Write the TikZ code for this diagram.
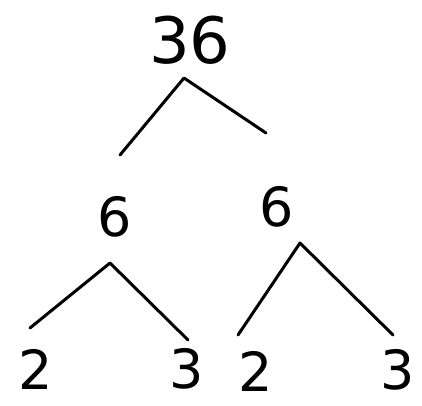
\documentclass[tikz,border=0pt]{standalone}
\usepackage{fontspec}
\setmainfont{DejaVu Sans}
\begin{document}
\begin{tikzpicture}[x=1pt,y=-1pt,
  num/.style={inner sep=0pt, font=\fontsize{54}{54}\selectfont},
  big/.style={inner sep=0pt, font=\fontsize{64}{64}\selectfont},
  branch/.style={line width=3pt, line cap=round, line join=round}]
\useasboundingbox (0,0) rectangle (422,405);
\node[big] (n36) at (190,40) {36};
\node[num] (n6a) at (115,217) {6};
\node[num] (n6b) at (277,207) {6};
\node[num] (n2a) at (36,369) {2};
\node[num] (n3a) at (187,369) {3};
\node[num] (n2b) at (256,371) {2};
\node[num] (n3b) at (398,370) {3};
% apexes and ends
\coordinate (a0) at (184,78);
\coordinate (l0) at (120,155);
\coordinate (r0) at (266,133);
\coordinate (a1) at (110,263);
\coordinate (l1) at (30,328);
\coordinate (r1) at (188,340);
\coordinate (a2) at (300,243);
\coordinate (l2) at (238,335);
\coordinate (r2) at (393,335);
\draw[branch] (l0) -- (a0) -- (r0);
\draw[branch] (l1) -- (a1) -- (r1);
\draw[branch] (l2) -- (a2) -- (r2);
\end{tikzpicture}
\end{document}
